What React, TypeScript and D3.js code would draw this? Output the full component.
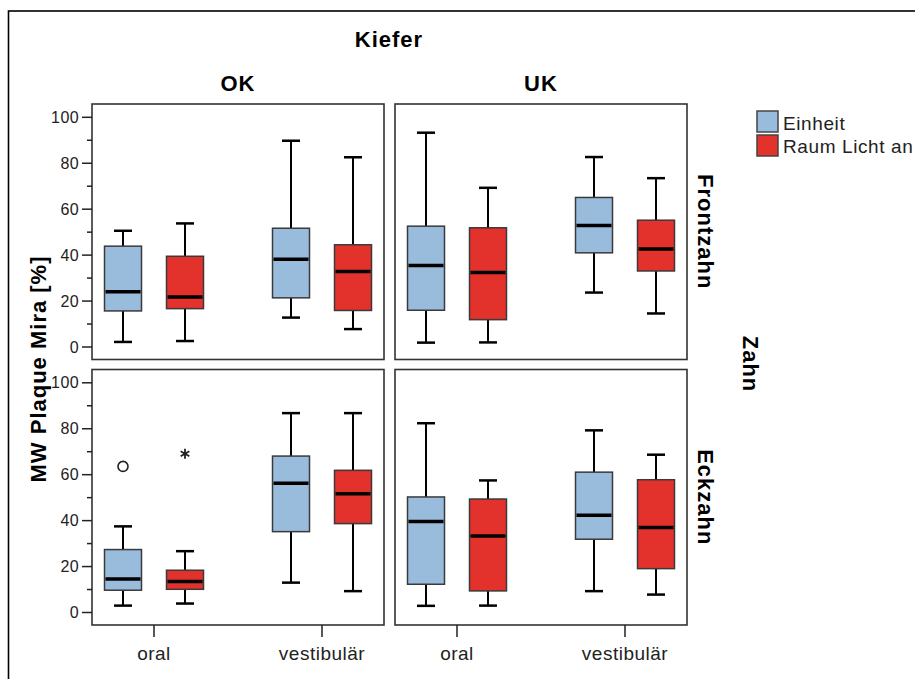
import React from "react";
import * as d3 from "d3";

// ---- data ----
const kieferCats = ["OK", "UK"];
const zahnCats = ["Frontzahn", "Eckzahn"];
const seiten = ["oral", "vestibulär"];
const gruppen = ["Einheit", "Raum Licht an"];
const yTicks = [0, 20, 40, 60, 80, 100];
const yMinorTicks = [10, 30, 50, 70, 90];

// each box: [lower whisker, Q1, median, Q3, upper whisker]
// order: oral-Einheit, oral-Raum Licht an, vestibulär-Einheit, vestibulär-Raum Licht an
const okFrontzahn = [
  [2.2, 15.7, 24.0, 43.9, 50.6],
  [2.6, 16.7, 21.8, 39.5, 53.8],
  [12.8, 21.4, 38.2, 51.7, 89.8],
  [7.8, 15.9, 32.9, 44.5, 82.6],
];
const ukFrontzahn = [
  [1.9, 16.0, 35.5, 52.6, 93.3],
  [2.0, 11.9, 32.4, 51.9, 69.3],
  [23.7, 41.0, 52.9, 65.1, 82.7],
  [14.6, 33.1, 42.7, 55.2, 73.5],
];
const okEckzahn = [
  [3.0, 9.7, 14.6, 27.4, 37.5],
  [3.9, 10.1, 13.5, 18.4, 26.7],
  [13.0, 35.2, 56.3, 68.1, 86.8],
  [9.3, 38.7, 51.7, 61.9, 86.8],
];
const ukEckzahn = [
  [2.9, 12.3, 39.6, 50.3, 82.4],
  [3.0, 9.4, 33.3, 49.4, 57.5],
  [9.3, 31.9, 42.3, 61.1, 79.3],
  [7.8, 19.1, 37.0, 57.8, 68.7],
];
const outlierKiefer = ["OK", "OK"];
const outlierZahn = ["Eckzahn", "Eckzahn"];
const outlierSeite = ["oral", "oral"];
const outlierGruppe = ["Einheit", "Raum Licht an"];
const outlierValue = [63.6, 69.1];
const outlierType = ["circle", "star"];

const panelData: Record<string, number[][]> = {
  "OK|Frontzahn": okFrontzahn,
  "UK|Frontzahn": ukFrontzahn,
  "OK|Eckzahn": okEckzahn,
  "UK|Eckzahn": ukEckzahn,
};

// ---- style ----
const FONT = "'Liberation Sans', Arial, sans-serif";
const colors: Record<string, string> = {
  Einheit: "#99bcdd",
  "Raum Licht an": "#e3312b",
};
const W = 915;
const H = 679;

const colX = d3.scaleBand<string>().domain(kieferCats).range([92, 687]).paddingInner(11 / 303);
const rowY = d3.scaleBand<string>().domain(zahnCats).range([104, 625]).paddingInner(10 / 265.5);

const bold = { fontSize: 22, fontWeight: "bold" as const, fill: "#000", letterSpacing: 1 };

export default function App() {
  const boxW = 37;
  const capW = 18;
  const panels: JSX.Element[] = [];

  kieferCats.forEach((k, ci) => {
    const x0 = colX(k)!;
    const x1 = x0 + colX.bandwidth();
    zahnCats.forEach((z, ri) => {
      const y0 = rowY(z)!;
      const y1 = y0 + rowY.bandwidth();
      const y = d3.scaleLinear().domain([0, 100]).range([y0 + 243, y0 + 13.3]);
      const xs = d3.scalePoint<string>().domain(seiten).range([x0 + 62, x1 - 62]);
      const gx = d3.scalePoint<string>().domain(gruppen).range([-31, 31]);
      const data = panelData[`${k}|${z}`];
      const items: JSX.Element[] = [];

      seiten.forEach((s, si) => {
        gruppen.forEach((g, gi) => {
          const [lo, q1, med, q3, hi] = data[si * 2 + gi];
          const cx = xs(s)! + gx(g)!;
          items.push(
            <g key={`${s}-${g}`}>
              <line x1={cx} x2={cx} y1={y(hi)} y2={y(q3)} stroke="#000" strokeWidth={2} />
              <line x1={cx} x2={cx} y1={y(q1)} y2={y(lo)} stroke="#000" strokeWidth={2} />
              <line x1={cx - capW / 2} x2={cx + capW / 2} y1={y(hi)} y2={y(hi)} stroke="#000" strokeWidth={2.5} />
              <line x1={cx - capW / 2} x2={cx + capW / 2} y1={y(lo)} y2={y(lo)} stroke="#000" strokeWidth={2.5} />
              <rect
                x={cx - boxW / 2}
                y={y(q3)}
                width={boxW}
                height={y(q1) - y(q3)}
                fill={colors[g]}
                stroke="#3a3a3a"
                strokeWidth={1.5}
              />
              <line x1={cx - boxW / 2 + 1} x2={cx + boxW / 2 - 1} y1={y(med)} y2={y(med)} stroke="#000" strokeWidth={3.5} />
            </g>
          );
        });
      });

      outlierValue.forEach((v, oi) => {
        if (outlierKiefer[oi] !== k || outlierZahn[oi] !== z) return;
        const cx = xs(outlierSeite[oi])! + gx(outlierGruppe[oi])!;
        const cy = y(v);
        if (outlierType[oi] === "circle") {
          items.push(<circle key={`o${oi}`} cx={cx} cy={cy} r={5} fill="none" stroke="#222" strokeWidth={1.6} />);
        } else {
          const path = d3.symbol().type(d3.symbolAsterisk).size(70)()!;
          items.push(
            <path key={`o${oi}`} d={path} transform={`translate(${cx},${cy})`} fill="none" stroke="#222" strokeWidth={1.8} />
          );
        }
      });

      const axis: JSX.Element[] = [];
      if (ci === 0) {
        yTicks.forEach((t) => {
          axis.push(
            <g key={`t${t}`}>
              <line x1={x0 - 10} x2={x0} y1={y(t)} y2={y(t)} stroke="#222" strokeWidth={1.5} />
              <text x={x0 - 13} y={y(t)} dy="0.35em" textAnchor="end" fontSize={16} fill="#222" letterSpacing={0.4}>
                {t}
              </text>
            </g>
          );
        });
        yMinorTicks.forEach((t) => {
          axis.push(<line key={`m${t}`} x1={x0 - 5} x2={x0} y1={y(t)} y2={y(t)} stroke="#222" strokeWidth={1.5} />);
        });
      }
      if (ri === 1) {
        seiten.forEach((s) => {
          axis.push(
            <g key={`x${s}`}>
              <line x1={xs(s)} x2={xs(s)} y1={y1} y2={y1 + 12} stroke="#222" strokeWidth={1.5} />
              <text x={xs(s)} y={y1 + 35} textAnchor="middle" fontSize={19} fill="#222" letterSpacing={0.5}>
                {s}
              </text>
            </g>
          );
        });
      }

      panels.push(
        <g key={`${k}-${z}`}>
          <rect x={x0} y={y0} width={x1 - x0} height={y1 - y0} fill="#fff" stroke="#333" strokeWidth={1.6} />
          {items}
          {axis}
        </g>
      );
    });
  });

  const colCenter = (k: string) => colX(k)! + colX.bandwidth() / 2;
  const rowCenter = (z: string) => rowY(z)! + rowY.bandwidth() / 2;

  return (
    <svg
      width={W}
      height={H}
      style={{ position: "absolute", left: 0, top: 0, background: "#fff" }}
      fontFamily={FONT}
    >
      <rect x={0} y={0} width={W} height={H} fill="#fff" />
      <rect x={8.5} y={11} width={1000} height={1000} fill="none" stroke="#000" strokeWidth={1.6} />
      <text x={389} y={47} textAnchor="middle" {...bold}>
        Kiefer
      </text>
      {kieferCats.map((k) => (
        <text key={k} x={colCenter(k)} y={91} textAnchor="middle" {...bold}>
          {k}
        </text>
      ))}
      {zahnCats.map((z) => (
        <text
          key={z}
          transform={`translate(705,${rowCenter(z)}) rotate(90)`}
          textAnchor="middle"
          dominantBaseline="central"
          {...bold}
        >
          {z}
        </text>
      ))}
      <text
        transform={`translate(750,364) rotate(90)`}
        textAnchor="middle"
        dominantBaseline="central"
        {...bold}
      >
        Zahn
      </text>
      <text
        transform={`translate(38,369) rotate(-90)`}
        textAnchor="middle"
        dominantBaseline="central"
        {...bold}
      >
        MW Plaque Mira [%]
      </text>
      {panels}
      {gruppen.map((g, i) => (
        <g key={g}>
          <rect x={757} y={111 + i * 24} width={21} height={21} fill={colors[g]} stroke="#444" strokeWidth={1.5} />
          <text x={783} y={129.5 + i * 23.5} fontSize={19} fill="#222" letterSpacing={0.6}>
            {g}
          </text>
        </g>
      ))}
    </svg>
  );
}
